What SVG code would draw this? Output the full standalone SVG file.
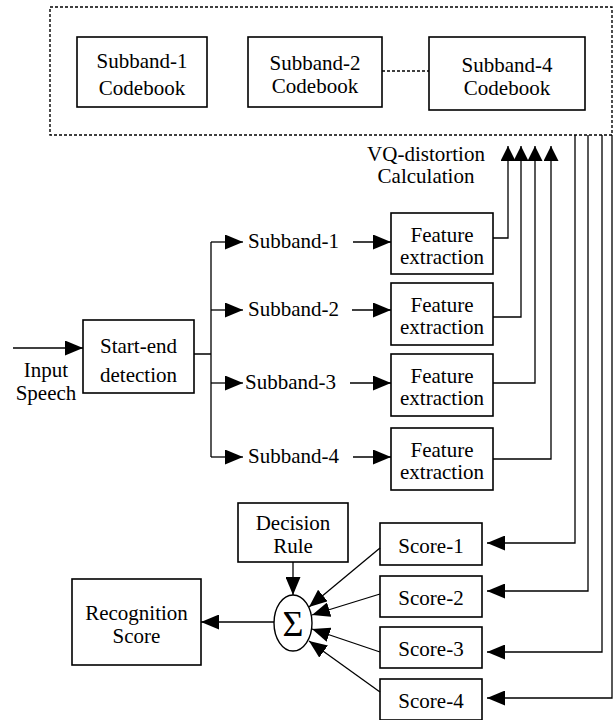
<svg xmlns="http://www.w3.org/2000/svg" width="613" height="720" viewBox="0 0 613 720">
<style>
.box{fill:#fff;stroke:#000;stroke-width:1.6}
text{font-family:'Liberation Serif','DejaVu Serif',serif;font-size:21px;fill:#000}
.t{text-anchor:middle}
.ln{fill:none;stroke:#000;stroke-width:1.3}
.dash{fill:none;stroke:#000;stroke-width:1.4;stroke-dasharray:3 2}
</style>
<defs>
<marker id="ah" markerUnits="userSpaceOnUse" markerWidth="18" markerHeight="15" refX="18" refY="7.5" orient="auto"><path d="M0,0 L18,7.5 L0,15 z" fill="#000"/></marker>
<marker id="av" markerUnits="userSpaceOnUse" markerWidth="15" markerHeight="15" refX="15" refY="7.5" orient="auto"><path d="M0,0 L15,7.5 L0,15 z" fill="#000"/></marker>
</defs>
<rect width="613" height="720" fill="#fff"/>

<g font-family="Liberation Serif, DejaVu Serif, serif">
<g id="codebook-store">
<rect class="dash" x="50" y="7" width="562" height="128"/>
</g>
<g id="cb1"><rect class="box" x="77" y="37" width="130" height="70"/><text class="t" x="142" y="68">Subband-1</text><text class="t" x="142" y="95">Codebook</text></g>
<g id="cb2"><rect class="box" x="248" y="37" width="134" height="70"/><text class="t" x="315" y="70">Subband-2</text><text class="t" x="315" y="93">Codebook</text></g>
<g id="cb4"><rect class="box" x="429" y="37" width="156" height="73"/><text class="t" x="507" y="72">Subband-4</text><text class="t" x="507" y="95">Codebook</text></g>
<g id="vq-label"><text class="t" x="426" y="161">VQ-distortion</text><text class="t" x="426" y="183">Calculation</text></g>

<g id="input-label"><text class="t" x="46" y="377">Input</text><text class="t" x="46" y="400">Speech</text></g>
<g id="start-end"><rect class="box" x="83" y="320" width="111" height="73"/><text class="t" x="138.5" y="353">Start-end</text><text class="t" x="138.5" y="382">detection</text></g>

<g id="sb1"><text x="248" y="248">Subband-1</text></g>
<g id="sb2"><text x="248" y="316">Subband-2</text></g>
<g id="sb3"><text x="245" y="389">Subband-3</text></g>
<g id="sb4"><text x="248" y="463">Subband-4</text></g>

<g id="fe1"><rect class="box" x="391" y="213" width="102" height="61"/><text class="t" x="442" y="242">Feature</text><text class="t" x="442" y="264">extraction</text></g>
<g id="fe2"><rect class="box" x="391" y="283" width="102" height="62"/><text class="t" x="442" y="312">Feature</text><text class="t" x="442" y="334">extraction</text></g>
<g id="fe3"><rect class="box" x="391" y="354" width="102" height="62"/><text class="t" x="442" y="383">Feature</text><text class="t" x="442" y="405">extraction</text></g>
<g id="fe4"><rect class="box" x="391" y="428" width="102" height="62"/><text class="t" x="442" y="457">Feature</text><text class="t" x="442" y="479">extraction</text></g>

<g id="decision"><rect class="box" x="238" y="503" width="110" height="59"/><text class="t" x="293" y="530">Decision</text><text class="t" x="293" y="553">Rule</text></g>
<g id="sum"><ellipse cx="293" cy="623" rx="19" ry="28" fill="#fff" stroke="#000" stroke-width="1.4"/><text class="t" x="293" y="636" style="font-size:36px">Σ</text></g>
<g id="recog"><rect class="box" x="72" y="579" width="129" height="86"/><text class="t" x="136.5" y="620">Recognition</text><text class="t" x="136.5" y="643">Score</text></g>

<g id="score1"><rect class="box" x="380" y="523" width="102" height="42"/><text class="t" x="431" y="553">Score-1</text></g>
<g id="score2"><rect class="box" x="380" y="576" width="102" height="41"/><text class="t" x="431" y="605">Score-2</text></g>
<g id="score3"><rect class="box" x="380" y="627" width="102" height="41"/><text class="t" x="431" y="656">Score-3</text></g>
<g id="score4"><rect class="box" x="380" y="679" width="102" height="41"/><text class="t" x="431" y="708">Score-4</text></g>
</g>

<g id="connectors">
<path class="dash" d="M382,71 H429"/>
<path class="ln" d="M13,348 H83" marker-end="url(#ah)"/>
<path class="ln" d="M194,354 H211 M211,242 V457"/>
<path class="ln" d="M211,242 H243" marker-end="url(#ah)"/>
<path class="ln" d="M211,310 H243" marker-end="url(#ah)"/>
<path class="ln" d="M211,383 H243" marker-end="url(#ah)"/>
<path class="ln" d="M211,457 H243" marker-end="url(#ah)"/>
<path class="ln" d="M353,242 H391" marker-end="url(#ah)"/>
<path class="ln" d="M352,310 H391" marker-end="url(#ah)"/>
<path class="ln" d="M350,383 H391" marker-end="url(#ah)"/>
<path class="ln" d="M353,457 H391" marker-end="url(#ah)"/>
<path class="ln" d="M493,238 H508 V146" marker-end="url(#av)"/>
<path class="ln" d="M493,317 H521 V146" marker-end="url(#av)"/>
<path class="ln" d="M493,383 H535 V146" marker-end="url(#av)"/>
<path class="ln" d="M493,459 H551 V146" marker-end="url(#av)"/>
<path class="ln" d="M575,135 V543 H487" marker-end="url(#ah)"/>
<path class="ln" d="M588,135 V591 H487" marker-end="url(#ah)"/>
<path class="ln" d="M602,135 V652 H487" marker-end="url(#ah)"/>
<path class="ln" d="M612,135 V698 H487" marker-end="url(#ah)"/>
<path class="ln" d="M293,562 V595" marker-end="url(#ah)"/>
<path class="ln" d="M274,622 H201" marker-end="url(#ah)"/>
<path class="ln" d="M380,548 L309,607" marker-end="url(#ah)"/>
<path class="ln" d="M380,594 L312,615" marker-end="url(#ah)"/>
<path class="ln" d="M380,652 L312,629" marker-end="url(#ah)"/>
<path class="ln" d="M380,692 L309,641" marker-end="url(#ah)"/>
</g>
</svg>
